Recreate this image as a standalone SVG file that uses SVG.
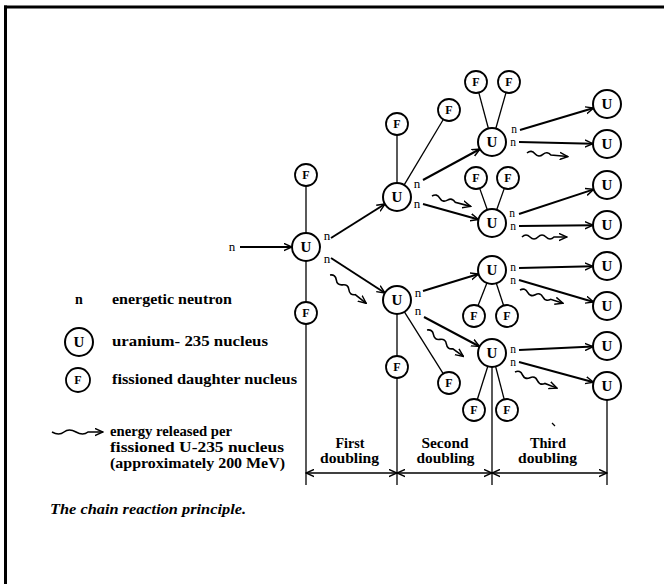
<svg xmlns="http://www.w3.org/2000/svg" width="664" height="584" viewBox="0 0 664 584">
<style>
.c{fill:#fff;stroke:#000;stroke-width:2}
.cf{fill:#fff;stroke:#000;stroke-width:1.8}
.t{font-family:"Liberation Serif","Times New Roman",serif;font-weight:bold;fill:#000}
.u{font-size:15px;text-anchor:middle}
.f{font-size:12px;text-anchor:middle}
.n{font-size:13px;text-anchor:middle;font-weight:normal}
.ns{font-size:11.5px;text-anchor:middle;font-weight:normal}
.lg{font-size:14px}
.dm{font-size:14px;text-anchor:middle}
.ln{stroke:#000;stroke-width:1.3;fill:none}
.ar{stroke:#000;stroke-width:2;fill:none;marker-end:url(#ah)}
.wv{stroke:#000;stroke-width:1.6;fill:none;marker-end:url(#ah)}
.dim{stroke:#000;stroke-width:1.6;fill:none;marker-start:url(#ah);marker-end:url(#ah)}
.fr{stroke:#000;stroke-width:3;fill:none}
</style>
<defs>
<marker id="ah" viewBox="0 0 10 10" refX="9" refY="5" markerWidth="9" markerHeight="9" markerUnits="userSpaceOnUse" orient="auto-start-reverse">
<path d="M0,1 L9,5 L0,9" fill="none" stroke="#000" stroke-width="1.6"/>
</marker>
</defs>
<rect width="664" height="584" fill="#fff"/>
<g id="frame">
<line class="fr" x1="4" y1="7" x2="664" y2="7"/>
<line class="fr" x1="5.5" y1="5.5" x2="5.5" y2="584"/>
</g>
<g id="connectors">
<line class="ar" x1="240" y1="247" x2="292" y2="247"/>
<line class="ar" x1="331" y1="238" x2="385" y2="204"/>
<line class="ar" x1="331" y1="258" x2="385" y2="293"/>
<line class="ar" x1="423" y1="180" x2="480" y2="149"/>
<line class="ar" x1="423" y1="204" x2="478.5" y2="219.5"/>
<line class="ar" x1="423" y1="291" x2="478.5" y2="274"/>
<line class="ar" x1="424" y1="317" x2="479.5" y2="346.5"/>
<line class="ar" x1="520" y1="130" x2="593.6" y2="108"/>
<line class="ar" x1="519" y1="142" x2="593" y2="143.7"/>
<line class="ar" x1="519" y1="214" x2="593.7" y2="189.4"/>
<line class="ar" x1="519" y1="226" x2="593" y2="225.2"/>
<line class="ar" x1="519" y1="268" x2="593" y2="266.3"/>
<line class="ar" x1="519" y1="280" x2="593.6" y2="302"/>
<line class="ar" x1="519" y1="350" x2="593" y2="346.6"/>
<line class="ar" x1="519" y1="362" x2="593.5" y2="382.3"/>
<line class="ln" x1="306" y1="233" x2="306" y2="186"/>
<line class="ln" x1="306" y1="261" x2="306" y2="302"/>
<line class="ln" x1="397" y1="183" x2="397" y2="135"/>
<line class="ln" x1="404.2" y1="184.9" x2="443.3" y2="119.5"/>
<line class="ln" x1="397" y1="314" x2="397" y2="356"/>
<line class="ln" x1="404.4" y1="311.9" x2="443.2" y2="373.7"/>
<line class="ln" x1="488.4" y1="128.5" x2="478.8" y2="92.6"/>
<line class="ln" x1="495.8" y1="128.5" x2="506" y2="92.6"/>
<line class="ln" x1="487.3" y1="209.8" x2="479.7" y2="188.4"/>
<line class="ln" x1="496.7" y1="209.8" x2="504.3" y2="188.4"/>
<line class="ln" x1="486.9" y1="283" x2="478" y2="305.8"/>
<line class="ln" x1="496.3" y1="283.3" x2="503.6" y2="305.5"/>
<line class="ln" x1="487.8" y1="366.3" x2="477.3" y2="399.5"/>
<line class="ln" x1="495.6" y1="366.5" x2="504.2" y2="399.4"/>
<path class="wv" transform="translate(330,275) rotate(38)" d="M0,0 q4,-4 8,0 t8,0 t8,0 t8,0 l14,0"/>
<path class="wv" transform="translate(432,196) rotate(15)" d="M0,0 q4,-4 8,0 t8,0 t8,0 l16,0"/>
<path class="wv" transform="translate(427,330) rotate(36)" d="M0,0 q4,-4 8,0 t8,0 t8,0 t8,0 l13,0"/>
<path class="wv" transform="translate(527,153) rotate(5)" d="M0,0 q4,-4 8,0 t8,0 t8,0 l17,0"/>
<path class="wv" transform="translate(522,237)" d="M0,0 q4,-4 8,0 t8,0 t8,0 t8,0 l13,0"/>
<path class="wv" transform="translate(520,290) rotate(17)" d="M0,0 q4,-4 8,0 t8,0 t8,0 t8,0 l13,0"/>
<path class="wv" transform="translate(515,372) rotate(21)" d="M0,0 q4,-4 8,0 t8,0 t8,0 t8,0 l13,0"/>
<g id="dimension">
<line class="ln" x1="306" y1="324" x2="306" y2="485"/>
<line class="ln" x1="397" y1="378" x2="397" y2="485"/>
<line class="ln" x1="492" y1="367" x2="492" y2="485"/>
<line class="ln" x1="607" y1="400" x2="607" y2="485"/>
<line class="dim" x1="306" y1="473" x2="397" y2="473"/>
<line class="dim" x1="397" y1="473" x2="492" y2="473"/>
<line class="dim" x1="492" y1="473" x2="607" y2="473"/>
</g>
<line class="ln" x1="552" y1="423" x2="555" y2="426"/>
</g>
<g id="n-labels">
<text class="t n" x="232" y="251">n</text>
<text class="t n" x="327" y="240">n</text>
<text class="t n" x="327" y="263">n</text>
<text class="t n" x="417" y="188">n</text>
<text class="t n" x="417" y="208">n</text>
<text class="t n" x="418" y="297">n</text>
<text class="t n" x="418" y="315">n</text>
<text class="t ns" x="514" y="133">n</text>
<text class="t ns" x="513" y="146">n</text>
<text class="t ns" x="512" y="217">n</text>
<text class="t ns" x="513" y="230">n</text>
<text class="t ns" x="513" y="271">n</text>
<text class="t ns" x="513" y="284">n</text>
<text class="t ns" x="513" y="353">n</text>
<text class="t ns" x="513" y="366">n</text>
</g>
<g id="U1"><circle class="c" cx="306" cy="247" r="14"/><text class="t u" x="306" y="252">U</text></g>
<g id="F1a"><circle class="cf" cx="306" cy="175" r="11"/><text class="t f" x="306" y="179">F</text></g>
<g id="F1b"><circle class="cf" cx="306" cy="313" r="11"/><text class="t f" x="306" y="317">F</text></g>
<g id="U2"><circle class="c" cx="397" cy="197" r="14"/><text class="t u" x="397" y="202">U</text></g>
<g id="F2a"><circle class="cf" cx="397" cy="124" r="11"/><text class="t f" x="397" y="128">F</text></g>
<g id="F2b"><circle class="cf" cx="449" cy="110" r="11"/><text class="t f" x="449" y="114">F</text></g>
<g id="U3"><circle class="c" cx="397" cy="300" r="14"/><text class="t u" x="397" y="305">U</text></g>
<g id="F3a"><circle class="cf" cx="397" cy="367" r="11"/><text class="t f" x="397" y="371">F</text></g>
<g id="F3b"><circle class="cf" cx="449" cy="383" r="11"/><text class="t f" x="449" y="387">F</text></g>
<g id="U4"><circle class="c" cx="492" cy="142" r="14"/><text class="t u" x="492" y="147">U</text></g>
<g id="F4a"><circle class="cf" cx="476" cy="82" r="11"/><text class="t f" x="476" y="86">F</text></g>
<g id="F4b"><circle class="cf" cx="509" cy="82" r="11"/><text class="t f" x="509" y="86">F</text></g>
<g id="U5"><circle class="c" cx="492" cy="223" r="14"/><text class="t u" x="492" y="228">U</text></g>
<g id="F5a"><circle class="cf" cx="476" cy="178" r="11"/><text class="t f" x="476" y="182">F</text></g>
<g id="F5b"><circle class="cf" cx="508" cy="178" r="11"/><text class="t f" x="508" y="182">F</text></g>
<g id="U6"><circle class="c" cx="492" cy="270" r="14"/><text class="t u" x="492" y="275">U</text></g>
<g id="F6a"><circle class="cf" cx="474" cy="316" r="11"/><text class="t f" x="474" y="320">F</text></g>
<g id="F6b"><circle class="cf" cx="507" cy="316" r="11"/><text class="t f" x="507" y="320">F</text></g>
<g id="U7"><circle class="c" cx="492" cy="353" r="14"/><text class="t u" x="492" y="358">U</text></g>
<g id="F7a"><circle class="cf" cx="474" cy="410" r="11"/><text class="t f" x="474" y="414">F</text></g>
<g id="F7b"><circle class="cf" cx="507" cy="410" r="11"/><text class="t f" x="507" y="414">F</text></g>
<g id="R1"><circle class="c" cx="607" cy="104" r="14"/><text class="t u" x="607" y="109">U</text></g>
<g id="R2"><circle class="c" cx="607" cy="144" r="14"/><text class="t u" x="607" y="149">U</text></g>
<g id="R3"><circle class="c" cx="607" cy="185" r="14"/><text class="t u" x="607" y="190">U</text></g>
<g id="R4"><circle class="c" cx="607" cy="225" r="14"/><text class="t u" x="607" y="230">U</text></g>
<g id="R5"><circle class="c" cx="607" cy="266" r="14"/><text class="t u" x="607" y="271">U</text></g>
<g id="R6"><circle class="c" cx="607" cy="306" r="14"/><text class="t u" x="607" y="311">U</text></g>
<g id="R7"><circle class="c" cx="607" cy="346" r="14"/><text class="t u" x="607" y="351">U</text></g>
<g id="R8"><circle class="c" cx="607" cy="386" r="14"/><text class="t u" x="607" y="391">U</text></g>
<g id="dimension-labels">
<text class="t dm" x="350" y="448" textLength="29" lengthAdjust="spacingAndGlyphs">First</text>
<text class="t dm" x="349.5" y="463" textLength="59" lengthAdjust="spacingAndGlyphs">doubling</text>
<text class="t dm" x="445" y="448" textLength="47" lengthAdjust="spacingAndGlyphs">Second</text>
<text class="t dm" x="445.5" y="463" textLength="58" lengthAdjust="spacingAndGlyphs">doubling</text>
<text class="t dm" x="548" y="448" textLength="36" lengthAdjust="spacingAndGlyphs">Third</text>
<text class="t dm" x="547.5" y="463" textLength="59" lengthAdjust="spacingAndGlyphs">doubling</text>
</g>
<g id="legend">
<text class="t lg" x="79" y="304" text-anchor="middle">n</text>
<text class="t lg" x="112" y="304" textLength="120" lengthAdjust="spacingAndGlyphs">energetic neutron</text>
<circle class="c" cx="79" cy="342" r="14"/><text class="t u" x="79" y="347">U</text>
<text class="t lg" x="112" y="346" textLength="156" lengthAdjust="spacingAndGlyphs">uranium- 235  nucleus</text>
<circle class="cf" cx="78" cy="380" r="12"/><text class="t f" x="78" y="384">F</text>
<text class="t lg" x="112" y="384" textLength="185" lengthAdjust="spacingAndGlyphs">fissioned daughter nucleus</text>
<path class="wv" transform="translate(52,432)" d="M0,0 q7,4 12,0 t12,0 t12,0 l15,0"/>
<text class="t lg" x="110" y="436" textLength="122" lengthAdjust="spacingAndGlyphs">energy released per</text>
<text class="t lg" x="110" y="452" textLength="174" lengthAdjust="spacingAndGlyphs">fissioned U-235 nucleus</text>
<text class="t lg" x="110" y="468" textLength="175" lengthAdjust="spacingAndGlyphs">(approximately 200 MeV)</text>
</g>
<text class="t" x="50" y="514" font-size="14" font-style="italic" textLength="196" lengthAdjust="spacingAndGlyphs">The chain reaction principle.</text>
</svg>
